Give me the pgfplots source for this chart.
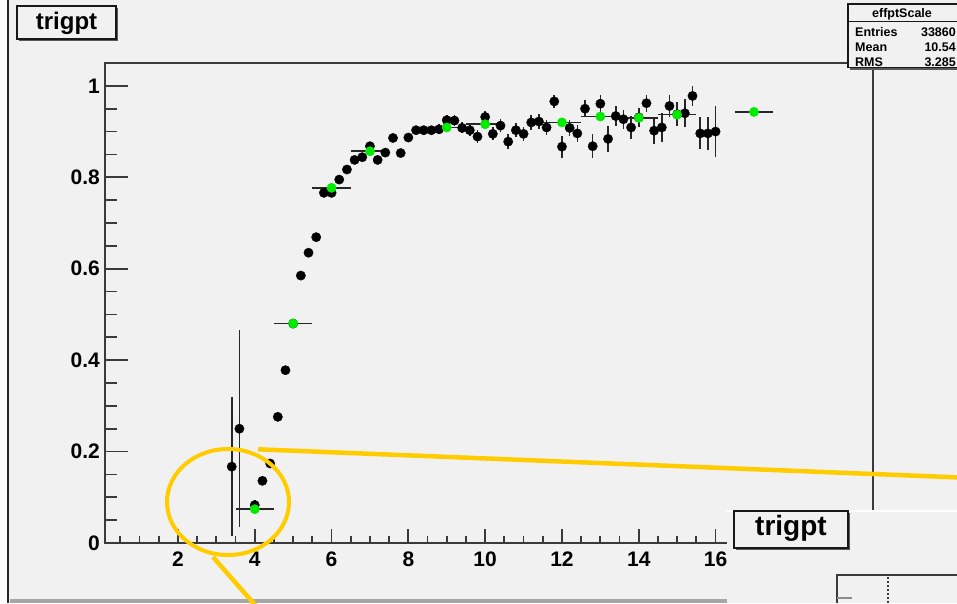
\documentclass[border=0pt]{standalone}
\usepackage{fontspec}
\setmainfont{Liberation Sans}
\usepackage{pgfplots}
\pgfplotsset{compat=1.18}
\usepackage{pgfplotstable}
\definecolor{bg}{HTML}{F1F1F1}
\definecolor{grn}{RGB}{0,235,0}
\definecolor{ylw}{HTML}{FFCC00}
\definecolor{frm}{HTML}{3A3A3A}

\pgfplotstableread{
x y e
3.4 0.167 0.152
3.6 0.250 0.216
4.0 0.083 0.012
4.2 0.136 0.010
4.4 0.174 0.009
4.6 0.276 0.008
4.8 0.378 0.008
5.0 0.480 0.007
5.2 0.585 0.007
5.4 0.635 0.007
5.6 0.669 0.007
5.8 0.766 0.007
6.0 0.766 0.007
6.2 0.795 0.007
6.4 0.817 0.007
6.6 0.838 0.007
6.8 0.844 0.007
7.0 0.868 0.008
7.2 0.838 0.008
7.4 0.854 0.008
7.6 0.886 0.008
7.8 0.853 0.009
8.0 0.887 0.009
8.2 0.903 0.009
8.4 0.903 0.010
8.6 0.903 0.010
8.8 0.905 0.011
9.0 0.925 0.011
9.2 0.924 0.012
9.4 0.908 0.012
9.6 0.903 0.013
9.8 0.889 0.014
10.0 0.932 0.013
10.2 0.895 0.014
10.4 0.913 0.014
10.6 0.878 0.016
10.8 0.903 0.015
11.0 0.895 0.016
11.2 0.920 0.016
11.4 0.922 0.016
11.6 0.909 0.017
11.8 0.966 0.015
12.0 0.867 0.024
12.2 0.908 0.018
12.4 0.896 0.018
12.6 0.950 0.019
12.8 0.868 0.026
13.0 0.961 0.018
13.2 0.884 0.028
13.4 0.934 0.022
13.6 0.927 0.021
13.8 0.909 0.025
14.0 0.931 0.021
14.2 0.962 0.019
14.4 0.902 0.029
14.6 0.909 0.031
14.8 0.956 0.024
15.0 0.938 0.026
15.2 0.940 0.031
15.4 0.978 0.021
15.6 0.896 0.035
15.8 0.896 0.036
16.0 0.900 0.055
}\blacktab

\pgfplotstableread{
x y ex
4 0.074 0.5
5 0.480 0.5
6 0.777 0.5
7 0.857 0.5
9 0.909 0.5
10 0.916 0.5
12 0.920 0.5
13 0.933 0.5
14 0.930 0.5
15 0.937 0.5
17 0.943 0.5
}\greentab

\begin{document}
\begin{tikzpicture}
\useasboundingbox (0,0) rectangle (957pt,-603pt);
\clip (0,0) rectangle (957pt,-603pt);
\begin{scope}[x=1pt,y=-1pt]
\fill[white] (0,0) rectangle (957,603);
\fill[bg] (8,0) rectangle (957,603);
\draw[line width=2.5pt, black!85] (8,0) -- (8,603);
\fill[black!35] (9.5,599) rectangle (727,603);
\end{scope}

\begin{axis}[
  at={(105pt,-543pt)}, anchor=south west,
  scale only axis, width=768pt, height=480pt,
  xmin=0.1, xmax=20.1, ymin=0, ymax=1.05,
  clip=false,
  axis line style={line width=1.8pt, draw=frm},
  xtick=\empty,
  ytick={0,0.2,0.4,0.6,0.8,1},
  minor ytick={0.05,0.1,0.15,0.25,0.3,0.35,0.45,0.5,0.55,0.65,0.7,0.75,0.85,0.9,0.95},
  ytick pos=left, tick align=inside,
  major tick length=23pt, minor tick length=12pt,
  tick style={line width=1.8pt, draw=frm},
  /pgf/number format/assume math mode=true,
  yticklabel style={font=\bfseries\fontsize{21}{21}\selectfont, anchor=east, inner sep=0pt, xshift=-5pt},
]
\addplot[draw=none, mark=none, forget plot,
  error bars/.cd, y dir=both, y explicit, error mark=none,
  error bar style={line width=1.6pt, draw=black!85}]
  table[x=x, y=y, y error=e]{\blacktab};
\addplot[only marks, mark=*, mark size=4.7pt,
  mark options={fill=black, draw=black, line width=0.3pt}]
  table[x=x, y=y]{\blacktab};
\addplot[draw=none, mark=none, forget plot,
  error bars/.cd, x dir=both, x explicit, error mark=none,
  error bar style={line width=1.6pt, draw=black!85}]
  table[x=x, y=y, x error=ex]{\greentab};
\addplot[only marks, mark=*, mark size=4.7pt,
  mark options={fill=grn, draw=grn, line width=0.3pt}]
  table[x=x, y=y]{\greentab};
\end{axis}

\begin{axis}[
  at={(105pt,-543pt)}, anchor=south west,
  scale only axis, width=768pt, height=480pt,
  xmin=0.1, xmax=20.1, ymin=0, ymax=1.05,
  axis line style={draw=none},
  ytick=\empty,
  xtick={2,4,6,8,10,12,14,16,18,20},
  minor xtick={0.5,1,1.5,2.5,3,3.5,4.5,5,5.5,6.5,7,7.5,8.5,9,9.5,10.5,11,11.5,12.5,13,13.5,14.5,15,15.5,16.5,17,17.5,18.5,19,19.5},
  xtick pos=left, tick align=inside,
  major tick length=14pt, minor tick length=7pt,
  tick style={line width=1.8pt, draw=frm},
  /pgf/number format/assume math mode=true,
  xticklabel style={font=\bfseries\fontsize{21}{21}\selectfont, anchor=north, inner sep=0pt, yshift=-9pt},
]
\addplot[draw=none, mark=none] coordinates {(1,0.5)};
\end{axis}

\begin{scope}[x=1pt,y=-1pt]
% title box
\fill[black!65] (19,8) rectangle (118,41);
\draw[line width=1.2pt, black!90, fill=bg] (17,6) rectangle (116,39);
\node[font=\bfseries\fontsize{24}{24}\selectfont, anchor=base, inner sep=0pt] at (66.5,29) {trigpt};
% stat box
\fill[black!65] (850,6) rectangle (962,69.5);
\draw[line width=1.2pt, black!90, fill=bg] (848,4) rectangle (960,67.5);
\draw[line width=1pt, black!90] (848,21.5) -- (960,21.5);
\node[font=\bfseries\fontsize{12.5}{12.5}\selectfont, anchor=base, inner sep=0pt] at (902,17) {effptScale};
\node[font=\bfseries\fontsize{12.5}{12.5}\selectfont, anchor=base west, inner sep=0pt] at (855,36) {Entries};
\node[font=\bfseries\fontsize{12.5}{12.5}\selectfont, anchor=base west, inner sep=0pt] at (855,51) {Mean};
\node[font=\bfseries\fontsize{12.5}{12.5}\selectfont, anchor=base west, inner sep=0pt] at (855,66) {RMS};
\node[font=\bfseries\fontsize{12.5}{12.5}\selectfont, anchor=base east, inner sep=0pt] at (956,36) {33860};
\node[font=\bfseries\fontsize{12.5}{12.5}\selectfont, anchor=base east, inner sep=0pt] at (956,51) {10.54};
\node[font=\bfseries\fontsize{12.5}{12.5}\selectfont, anchor=base east, inner sep=0pt] at (956,66) {3.285};
% overlay pad
\fill[bg] (727,510) rectangle (957,603);
\draw[white, line width=1.5pt] (727,510.75) -- (957,510.75);
\fill[black!65] (736,513) rectangle (850,550);
\draw[line width=1.2pt, black!90, fill=bg] (734,511) rectangle (848,548);
\node[font=\bfseries\fontsize{28}{28}\selectfont, anchor=base, inner sep=0pt] at (791,535) {trigpt};
\draw[frm, line width=1.5pt] (837,603) -- (837,575) -- (957,575);
\draw[frm, line width=1.5pt, dash pattern=on 2pt off 2pt] (888,577) -- (888,603);
\draw[black!45, line width=1.5pt] (837,598) -- (852,598);
% yellow annotations
\draw[ylw, line width=4pt] (228,502) ellipse [x radius=61pt, y radius=53pt];
\draw[ylw, line width=4.5pt] (258,449.3) -- (960,477.5);
\draw[ylw, line width=4.5pt] (213,557) -- (256,606);
\end{scope}
\end{tikzpicture}
\end{document}
